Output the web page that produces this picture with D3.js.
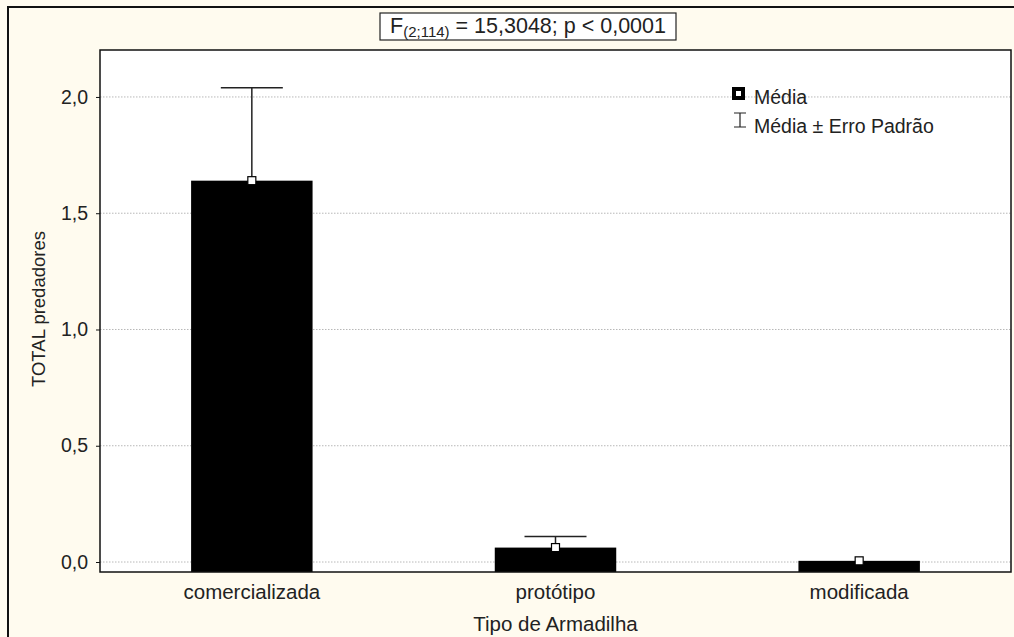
<!DOCTYPE html>
<html><head><meta charset="utf-8">
<script src="https://cdn.jsdelivr.net/npm/d3@7"></script>
<style>body{margin:0;background:#fffbef}svg{display:block}text{font-family:"Liberation Sans",Arial,sans-serif;fill:#222}</style>
</head><body>
<svg id="c" width="1014" height="637"></svg>
<script>
const categories = ["comercializada", "protótipo", "modificada"];
const means = [1.64, 0.062, 0.005];
const upper = [2.04, 0.11, 0.005];
const yTicks = [0, 0.5, 1.0, 1.5, 2.0];
const yTickLabels = ["0,0", "0,5", "1,0", "1,5", "2,0"];

const svg = d3.select("#c");
const W = 1014, H = 637;
const m = {l: 100, r: 3, t: 50, b: 65};
const pw = W - m.l - m.r, ph = H - m.t - m.b;

svg.append("rect").attr("width", W).attr("height", H).attr("fill", "#fffbef");
svg.append("path").attr("d", `M8,${H} V7 H${W}`).attr("fill", "none").attr("stroke", "#111").attr("stroke-width", 2);

const g = svg.append("g").attr("transform", `translate(${m.l},${m.t})`);
const x = d3.scaleBand().domain(categories).range([0, pw]).paddingInner(0.6).paddingOuter(0.3);
const y = d3.scaleLinear().domain([-0.043, 2.202]).range([ph, 0]);

g.append("rect").attr("width", pw).attr("height", ph).attr("fill", "#fff");

// grid
g.selectAll(".grid").data(yTicks).join("line")
  .attr("x1", 0).attr("x2", pw).attr("y1", d => y(d)).attr("y2", d => y(d))
  .attr("stroke", "#b8b8b8").attr("stroke-dasharray", "1.5,1.5").attr("stroke-width", 1);

// bars
g.selectAll(".bar").data(categories).join("rect")
  .attr("x", d => x(d)).attr("width", x.bandwidth())
  .attr("y", (d, i) => y(means[i])).attr("height", (d, i) => ph - y(means[i]))
  .attr("fill", "#000");

// error bars
const cap = 31;
categories.forEach((c, i) => {
  if (upper[i] <= means[i]) return;
  const cx = x(c) + x.bandwidth() / 2;
  g.append("line").attr("x1", cx).attr("x2", cx).attr("y1", y(means[i])).attr("y2", y(upper[i])).attr("stroke", "#222").attr("stroke-width", 1.5);
  g.append("line").attr("x1", cx - cap).attr("x2", cx + cap).attr("y1", y(upper[i])).attr("y2", y(upper[i])).attr("stroke", "#222").attr("stroke-width", 1.5);
});
// mean markers
g.selectAll(".mk").data(categories).join("rect")
  .attr("x", d => x(d) + x.bandwidth() / 2 - 4).attr("y", (d, i) => y(means[i]) - 4)
  .attr("width", 8).attr("height", 8).attr("fill", "#fff").attr("stroke", "#000").attr("stroke-width", 1.2);

// axes
const ya = d3.axisLeft(y).tickValues(yTicks).tickFormat((d, i) => yTickLabels[i]).tickSize(4).tickPadding(8);
const yg = g.append("g").call(ya);
yg.select(".domain").remove();
yg.selectAll("text").attr("font-size", 19.5).attr("fill", "#222");
yg.selectAll("line").attr("stroke", "#111");

const xa = d3.axisBottom(x).tickSize(0).tickPadding(12);
const xg = g.append("g").attr("transform", `translate(0,${ph})`).call(xa);
xg.select(".domain").remove();
xg.selectAll("text").attr("font-size", 20.5).attr("fill", "#222");

// plot frame
g.append("rect").attr("width", pw).attr("height", ph).attr("fill", "none").attr("stroke", "#111").attr("stroke-width", 1.5);

// axis titles
svg.append("text").attr("x", m.l + pw / 2).attr("y", 631).attr("text-anchor", "middle").attr("font-size", 20.5).text("Tipo de Armadilha");
svg.append("text").attr("transform", `translate(45,${m.t + ph / 2 - 2}) rotate(-90)`).attr("text-anchor", "middle").attr("font-size", 18.5).text("TOTAL predadores");

// stat box
svg.append("rect").attr("x", 380).attr("y", 13).attr("width", 296).attr("height", 27).attr("fill", "#fff").attr("stroke", "#222").attr("stroke-width", 1.2);
const t = svg.append("text").attr("x", 528).attr("y", 33).attr("text-anchor", "middle").attr("font-size", 21.5);
t.append("tspan").text("F");
t.append("tspan").attr("font-size", 15).attr("dy", 4).text("(2;114)");
t.append("tspan").attr("dy", -4).text(" = 15,3048; p < 0,0001");

// legend
svg.append("rect").attr("x", 732).attr("y", 87).attr("width", 13).attr("height", 13).attr("fill", "#000");
svg.append("rect").attr("x", 736).attr("y", 91).attr("width", 5).attr("height", 5).attr("fill", "#fff");
svg.append("text").attr("x", 754).attr("y", 104).attr("font-size", 19.5).text("Média");
svg.append("path").attr("d", "M734,113 H746 M740,113 V127 M734,127 H746").attr("stroke", "#222").attr("stroke-width", 1.2).attr("fill", "none");
svg.append("text").attr("x", 754).attr("y", 133).attr("font-size", 19.5).text("Média ± Erro Padrão");
</script>
</body></html>
